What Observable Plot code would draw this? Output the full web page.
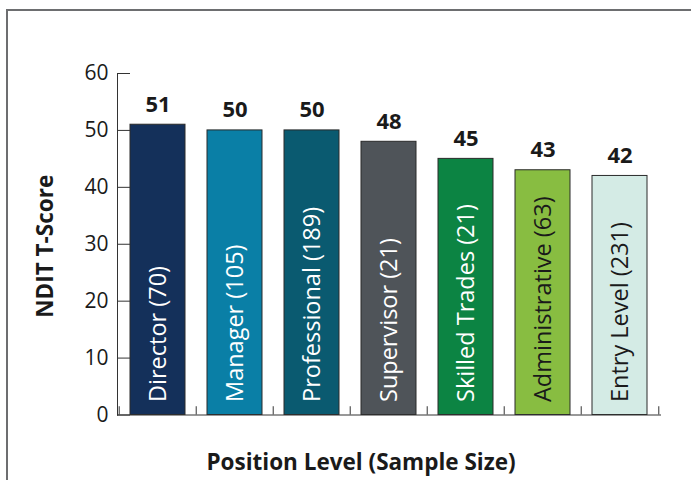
<!DOCTYPE html>
<html>
<head>
<meta charset="utf-8">
<script src="https://cdn.jsdelivr.net/npm/d3@7"></script>
<script src="https://cdn.jsdelivr.net/npm/@observablehq/plot@0.6"></script>
<style>
  html, body { margin: 0; padding: 0; background: #fff; }
  #wrap { position: relative; width: 691px; height: 480px; overflow: hidden; }
  #border { position: absolute; left: 6px; top: 9px; right: -10px; bottom: -10px;
            border-left: 2px solid #6d6e70; border-top: 2px solid #6d6e70; }
  #chart { position: absolute; left: 0; top: 0; }
  #chart svg { font-family: "Open Sans", sans-serif; }
</style>
</head>
<body>
<div id="wrap"><div id="border"></div><div id="chart"></div></div>
<script>
const categories = ["Director", "Manager", "Professional", "Supervisor", "Skilled Trades", "Administrative", "Entry Level"];
const sampleSizes = [70, 105, 189, 21, 21, 63, 231];
const scores = [51, 50, 50, 48, 45, 43, 42];
const barColors = ["#14305a", "#0a7fa6", "#0a5a70", "#4f5459", "#0c8443", "#88bd41", "#d4ebe5"];
const labelColors = ["#ffffff", "#ffffff", "#ffffff", "#ffffff", "#ffffff", "#1a1a1a", "#1a1a1a"];
const yTicks = [0, 10, 20, 30, 40, 50, 60];
const yTitle = "NDIT T-Score";
const xTitle = "Position Level (Sample Size)";

const data = categories.map((c, i) => ({
  category: c,
  n: sampleSizes[i],
  score: scores[i],
  color: barColors[i],
  labelColor: labelColors[i],
  label: `${c} (${sampleSizes[i]})`
}));

const W = 691, H = 480;
const mL = 117, mR = 31, mT = 73, mB = 65.5;
const step = (W - mL - mR) / categories.length;

const chart = Plot.plot({
  width: W,
  height: H,
  marginLeft: mL,
  marginRight: mR,
  marginTop: mT,
  marginBottom: mB,
  style: { background: "transparent", fontFamily: "Open Sans, sans-serif" },
  x: { domain: categories, paddingInner: 0.28, paddingOuter: 0.14, axis: null },
  y: { domain: [0, 60], axis: null },
  marks: [
    Plot.barY(data, { x: "category", y: "score", fill: "color", stroke: "#2a2a2a", strokeWidth: 1 }),
    Plot.axisY(yTicks, { tickSize: -13, tickPadding: 22, fontSize: 21, fill: "#1a1a1a", stroke: "#333", label: null }),
    Plot.frame({ anchor: "left", stroke: "#333" }),
    Plot.frame({ anchor: "bottom", stroke: "#333" }),
    Plot.ruleX(categories, { x: d => d, dx: -step / 2, y1: 0, y2: 1.45, stroke: "#333" }),
    Plot.ruleX([categories[categories.length - 1]], { x: d => d, dx: step / 2, y1: 0, y2: 1.45, stroke: "#333" }),
    Plot.text(data, { x: "category", y: "score", text: d => String(d.score), dy: -20, fontSize: 22, fontWeight: "bold", fill: "#1a1a1a" }),
    Plot.text(data, { x: "category", y: 0, text: "label", rotate: -90, textAnchor: "start", lineAnchor: "middle", dy: -13, fontSize: 23.5, fill: "labelColor" }),
    Plot.text([yTitle], { text: d => d, frameAnchor: "left", rotate: -90, dx: -72, dy: 2, fontSize: 22.5, fontWeight: "bold", fill: "#1a1a1a", textAnchor: "middle", lineAnchor: "middle" }),
    Plot.text([xTitle], { text: d => d, frameAnchor: "bottom", dx: -28, dy: 48, fontSize: 22.5, fontWeight: "bold", fill: "#1a1a1a", textAnchor: "middle", lineAnchor: "middle" })
  ]
});
document.getElementById("chart").appendChild(chart);
</script>
</body>
</html>
